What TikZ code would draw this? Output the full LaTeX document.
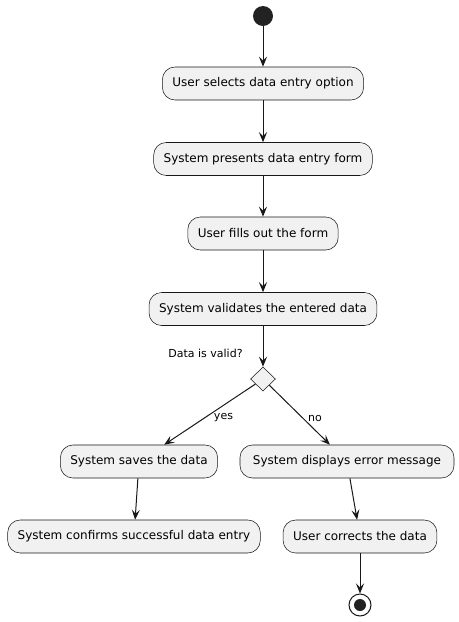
\documentclass[tikz,border=0pt]{standalone}
\usepackage{fontspec}
\setmainfont{DejaVu Sans}
\usetikzlibrary{arrows.meta,shapes.geometric}
\definecolor{boxfill}{HTML}{F1F1F1}
\definecolor{ink}{HTML}{181818}
\definecolor{dotc}{HTML}{222222}
\begin{document}
\begin{tikzpicture}[x=0.75pt,y=-0.75pt,
  act/.style={rectangle, rounded corners=9.4pt, draw=ink, line width=0.4pt, fill=boxfill,
    font=\fontsize{9pt}{11pt}\selectfont, inner xsep=7.5pt, inner ysep=0pt, minimum height=24.75pt},
  flow/.style={draw=ink, line width=0.75pt, -{Stealth[length=7.5pt,width=6pt,inset=3pt]}},
  lbl/.style={font=\fontsize{8.25pt}{10pt}\selectfont, text=black, inner sep=0pt}]
\useasboundingbox (0,0) rectangle (459,622);
\node[circle, fill=dotc, minimum size=15pt, inner sep=0pt] (start) at (263,16) {};
\node[act] (a1) at (263,83.5) {User selects data entry option};
\node[act] (a2) at (263,159) {System presents data entry form};
\node[act] (a3) at (263,233.5) {User fills out the form};
\node[act] (a4) at (263,309) {System validates the entered data};
\node[diamond, draw=ink, fill=boxfill, line width=0.4pt, minimum width=18.75pt, minimum height=18pt, inner sep=0pt] (dec) at (263,379) {};
\node[lbl] (q) at (205.5,353) {Data is valid?};
\node[act] (yes1) at (139,461.5) {System saves the data};
\node[act, minimum width=160.5pt] (no1) at (347,461.5) {System displays error message};
\node[act] (yes2) at (134,536.5) {System confirms successful data entry};
\node[act] (no2) at (360,536.5) {User corrects the data};
\node[circle, draw=ink, line width=0.75pt, fill=white, minimum size=16.5pt, inner sep=0pt] (end) at (360,605) {};
\fill[dotc] (end.center) circle[radius=4.5pt];
\draw[flow] (start) -- (a1);
\draw[flow] (a1) -- (a2);
\draw[flow] (a2) -- (a3);
\draw[flow] (a3) -- (a4);
\draw[flow] (a4) -- (dec);
\draw[flow] (dec) -- (yes1);
\draw[flow] (dec) -- (no1);
\draw[flow] (yes1) -- (yes2);
\draw[flow] (no1) -- (no2);
\draw[flow] (no2) -- (end);
\node[lbl] (ylab) at (223.5,418) {yes};
\node[lbl] (nlab) at (315,418) {no};
\end{tikzpicture}
\end{document}
